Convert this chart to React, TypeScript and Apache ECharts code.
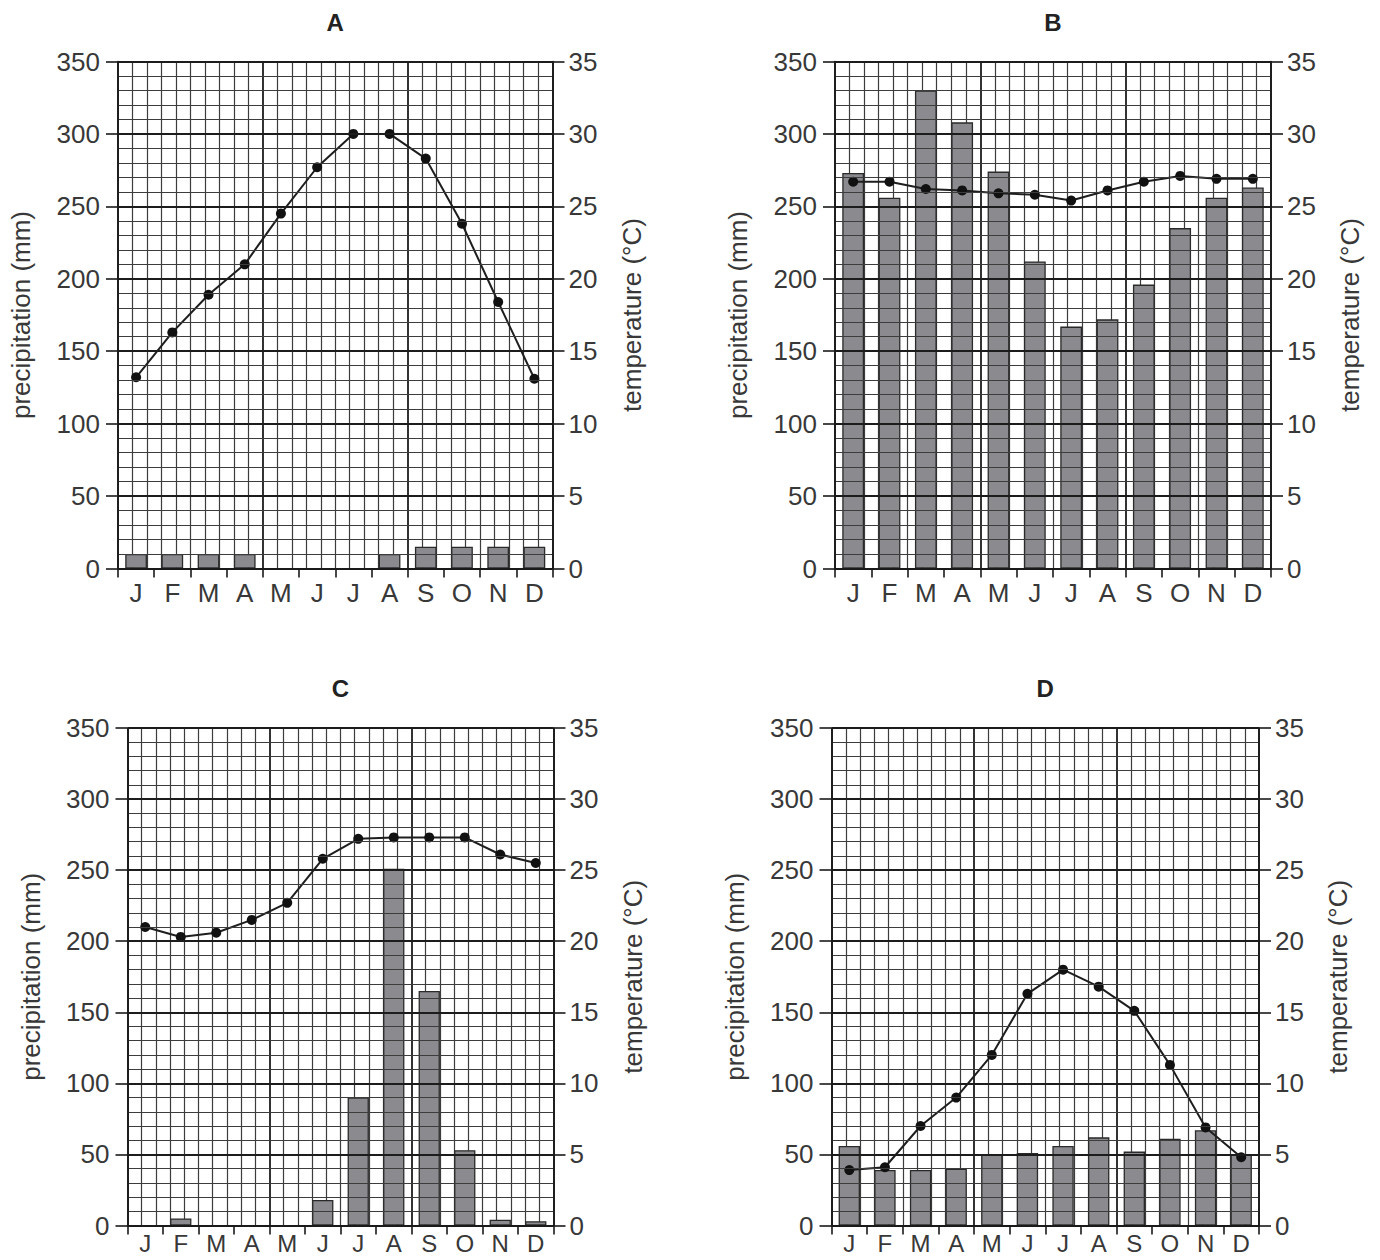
import React, { useEffect, useRef } from "react";
import * as echarts from "echarts";

const MONTHS = ["J", "F", "M", "A", "M", "J", "J", "A", "S", "O", "N", "D"];
const PRECIP_TICKS_MAX = 350;
const TEMP_TICKS_MAX = 35;
const TITLES = ["A", "B", "C", "D"];

const precipA = [10, 10, 10, 10, 0, 0, 0, 10, 15, 15, 15, 15];
const tempA = [13.2, 16.3, 18.9, 21, 24.5, 27.7, 30, 30, 28.3, 23.8, 18.4, 13.1];
const precipB = [273, 256, 330, 308, 274, 212, 167, 172, 196, 235, 256, 263];
const tempB = [26.7, 26.7, 26.2, 26.1, 25.9, 25.8, 25.4, 26.1, 26.7, 27.1, 26.9, 26.9];
const precipC = [0, 5, 0, 0, 0, 18, 90, 251, 165, 53, 4, 3];
const tempC = [21, 20.3, 20.6, 21.5, 22.7, 25.8, 27.2, 27.3, 27.3, 27.3, 26.1, 25.5];
const precipD = [56, 39, 39, 40, 50, 51, 56, 62, 52, 61, 67, 50];
const tempD = [3.9, 4.1, 7, 9, 12, 16.3, 18, 16.8, 15.1, 11.3, 6.9, 4.8];

const PRECIP = [precipA, precipB, precipC, precipD];
const TEMP = [tempA, tempB, tempC, tempD];

const GRIDS = [
  { left: 118, top: 61.5, width: 434.5, height: 507 },
  { left: 835, top: 61.5, width: 436, height: 507 },
  { left: 127.5, top: 728, width: 426, height: 497.5 },
  { left: 831.5, top: 728, width: 427.5, height: 497.5 },
];

const FONT = "'Liberation Sans', Arial, sans-serif";
const LABEL_COLOR = "#383838";
const AXIS_COLOR = "#1a1a1a";

function buildOption() {
  const grid: any[] = [];
  const xAxis: any[] = [];
  const yAxis: any[] = [];
  const series: any[] = [];
  const title: any[] = [];

  GRIDS.forEach((g, i) => {
    const lower = i >= 2;
    grid.push({ ...g, containLabel: false });
    title.push({
      text: TITLES[i],
      left: g.left + g.width / 2,
      top: g.top - 51.5,
      padding: 0,
      textAlign: "center",
      textStyle: { fontFamily: FONT, fontWeight: "bold", fontSize: 24, color: "#222" },
    });
    xAxis.push({
      type: "category",
      gridIndex: i,
      data: MONTHS,
      boundaryGap: true,
      axisLine: { show: true, lineStyle: { color: AXIS_COLOR, width: 1.6 } },
      axisTick: { show: true, interval: 0, length: 9, lineStyle: { color: AXIS_COLOR, width: 1.6 } },
      axisLabel: {
        interval: 0,
        margin: lower ? 6 : 11,
        fontSize: lower ? 24 : 26,
        color: LABEL_COLOR,
        fontFamily: FONT,
      },
      splitLine: { show: false },
      z: 5,
    });
    xAxis.push({
      type: "value",
      gridIndex: i,
      min: 0,
      max: 30,
      interval: 10,
      position: "top",
      axisLine: { show: false },
      axisTick: { show: false },
      axisLabel: { show: false },
      splitLine: { show: true, lineStyle: { color: "#1c1c1c", width: 1.8 } },
      minorTick: { show: false, splitNumber: 10 },
      minorSplitLine: { show: true, lineStyle: { color: "#3c3c3c", width: 1.2 } },
    });
    yAxis.push({
      type: "value",
      gridIndex: i,
      min: 0,
      max: PRECIP_TICKS_MAX,
      interval: 50,
      position: "left",
      name: "precipitation (mm)",
      nameLocation: "middle",
      nameRotate: 90,
      nameGap: 84,
      nameTextStyle: { fontSize: 26, color: LABEL_COLOR, fontFamily: FONT },
      axisLine: { show: true, lineStyle: { color: AXIS_COLOR, width: 1.6 } },
      axisTick: { show: true, length: 12, lineStyle: { color: AXIS_COLOR, width: 1.6 } },
      axisLabel: { margin: 18, fontSize: 26, color: LABEL_COLOR, fontFamily: FONT },
      splitLine: { show: true, lineStyle: { color: "#1c1c1c", width: 1.8 } },
      minorTick: { show: false, splitNumber: 5 },
      minorSplitLine: { show: true, lineStyle: { color: "#3c3c3c", width: 1.2 } },
      z: 5,
    });
    yAxis.push({
      type: "value",
      gridIndex: i,
      min: 0,
      max: TEMP_TICKS_MAX,
      interval: 5,
      position: "right",
      name: "temperature (°C)",
      nameLocation: "middle",
      nameRotate: 90,
      nameGap: 66,
      nameTextStyle: { fontSize: 26, color: LABEL_COLOR, fontFamily: FONT },
      axisLine: { show: true, lineStyle: { color: AXIS_COLOR, width: 1.6 } },
      axisTick: { show: true, length: 12, lineStyle: { color: AXIS_COLOR, width: 1.6 } },
      axisLabel: { margin: 16, fontSize: 26, color: LABEL_COLOR, fontFamily: FONT },
      splitLine: { show: false },
      z: 5,
    });
    series.push({
      type: "bar",
      xAxisIndex: 2 * i,
      yAxisIndex: 2 * i,
      data: PRECIP[i].map((v) => (v === 0 ? null : v)),
      barWidth: "60%",
      itemStyle: { color: "#8a8a8f", borderColor: "#2a2a2a", borderWidth: 1.3 },
      z: 3,
    });
    series.push({
      type: "line",
      xAxisIndex: 2 * i,
      yAxisIndex: 2 * i + 1,
      data: TEMP[i],
      symbol: "circle",
      symbolSize: 10,
      lineStyle: { color: "#1e1e1e", width: 2 },
      itemStyle: { color: "#111" },
      z: 4,
    });
  });

  return { animation: false, backgroundColor: "#ffffff", title, grid, xAxis, yAxis, series };
}

export default function App() {
  const ref = useRef<HTMLDivElement>(null);
  useEffect(() => {
    if (!ref.current) return;
    const chart = echarts.init(ref.current, undefined, { renderer: "svg" });
    chart.setOption(buildOption() as any);
    return () => chart.dispose();
  }, []);
  return (
    <div
      ref={ref}
      style={{ position: "absolute", left: 0, top: 0, width: 1380, height: 1260, background: "#fff" }}
    />
  );
}
